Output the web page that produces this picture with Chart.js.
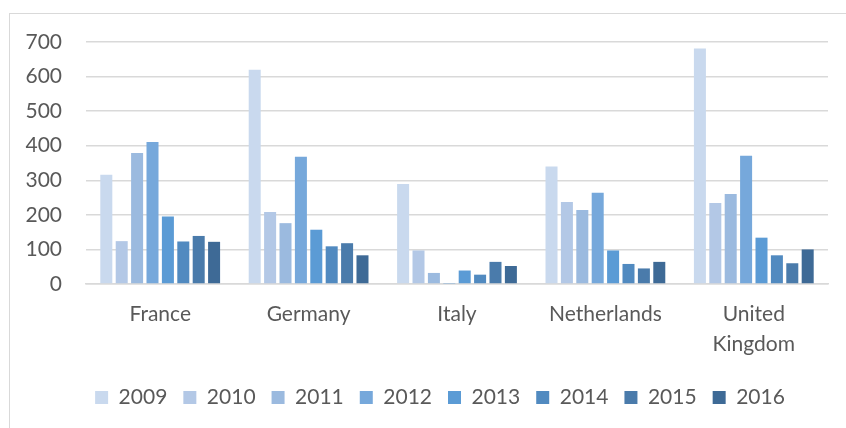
<!DOCTYPE html>
<html>
<head>
<meta charset="utf-8">
<script src="https://cdn.jsdelivr.net/npm/chart.js@4"></script>
<style>
html,body{margin:0;padding:0;background:#fff;overflow:hidden;width:846px;height:428px;}
#frame{position:absolute;left:9px;top:13px;width:900px;height:500px;border:1px solid #d9d9d9;}
#wrap{position:absolute;left:0;top:0;width:846px;height:428px;}
</style>
</head>
<body>
<div id="frame"></div>
<div id="wrap"><canvas id="c" width="846" height="428"></canvas></div>
<script>
const categories = ["France", "Germany", "Italy", "Netherlands", ["United", "Kingdom"]];
const years = ["2009", "2010", "2011", "2012", "2013", "2014", "2015", "2016"];
const v2009 = [316, 620, 289, 340, 681];
const v2010 = [124, 208, 97, 237, 234];
const v2011 = [379, 176, 32, 214, 260];
const v2012 = [411, 368, 1, 264, 371];
const v2013 = [195, 157, 39, 97, 134];
const v2014 = [123, 109, 27, 58, 83];
const v2015 = [139, 118, 64, 45, 60];
const v2016 = [122, 83, 52, 64, 100];
const yTicks = [0, 100, 200, 300, 400, 500, 600, 700];
const colors = ["#c9d9ee", "#b3c8e6", "#9bbadf", "#76a8db", "#5b9bd5", "#518ac0", "#4a7bab", "#3e6a96"];
const series = [v2009, v2010, v2011, v2012, v2013, v2014, v2015, v2016];

const FONT = "Lato";
const GREY = "#595959";

const legendShift = {
  id: "legendShift",
  afterLayout(chart) {
    if (chart.legend) { chart.legend.left += 26; chart.legend.right += 26; }
  }
};

new Chart(document.getElementById("c"), {
  type: "bar",
  data: {
    labels: categories,
    datasets: years.map((y, i) => ({
      label: y,
      data: series[i],
      backgroundColor: colors[i],
      borderWidth: 0,
      categoryPercentage: 0.83,
      barPercentage: 0.78
    }))
  },
  plugins: [legendShift],
  options: {
    responsive: false,
    animation: false,
    devicePixelRatio: 1,
    layout: { padding: { left: 0, right: 18, top: 42, bottom: 10 } },
    plugins: {
      tooltip: { enabled: false },
      legend: {
        position: "bottom",
        labels: {
          boxWidth: 13,
          boxHeight: 13,
          padding: 16,
          color: GREY,
          font: { family: FONT, size: 21 }
        }
      }
    },
    scales: {
      x: {
        grid: { display: false, drawTicks: false },
        border: { display: true, color: "#d9d9d9", width: 1.5 },
        ticks: {
          color: GREY,
          padding: 16,
          maxRotation: 0,
          autoSkip: false,
          font: { family: FONT, size: 21, lineHeight: 1.4 }
        },
        afterFit: (s) => { s.height = 87; }
      },
      y: {
        min: 0,
        max: 700,
        afterBuildTicks: (s) => { s.ticks = yTicks.map(v => ({ value: v })); },
        grid: { color: "#d9d9d9", lineWidth: 1.5, drawTicks: false },
        border: { display: false },
        ticks: {
          color: GREY,
          padding: 24,
          font: { family: FONT, size: 21 }
        },
        afterFit: (s) => { s.width = 86; }
      }
    }
  }
});
</script>
</body>
</html>
